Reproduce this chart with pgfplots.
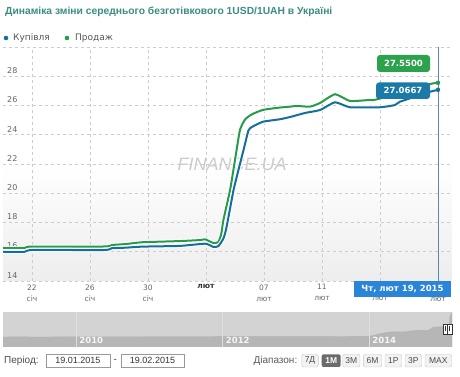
\documentclass[border=0pt]{standalone}
\usepackage{pgfplots}
\pgfplotsset{compat=1.18}
\usepackage{pgfplotstable}
\usepackage{fontspec}
\setmainfont{Liberation Sans}
\newfontfamily\dv{DejaVu Sans}
\definecolor{titlec}{RGB}{58,140,132}
\definecolor{greenS}{RGB}{40,155,75}
\definecolor{blueS}{RGB}{22,110,155}
\definecolor{gridc}{RGB}{205,205,205}
\definecolor{tickc}{RGB}{102,102,102}
\definecolor{legc}{RGB}{85,85,85}
\definecolor{gbox}{RGB}{44,162,76}
\definecolor{bbox}{RGB}{28,122,168}
\definecolor{ttip}{RGB}{42,132,216}
\definecolor{crossc}{RGB}{90,135,180}
\definecolor{navbg}{RGB}{211,211,211}
\definecolor{navser}{RGB}{182,182,182}
\definecolor{btnbg}{RGB}{242,242,242}
\definecolor{btnbd}{RGB}{200,200,200}

\pgfplotstableread{
x y
20.0 16.26
21.5 16.26
21.9 16.35
27.0 16.36
27.5 16.46
28.5 16.53
29.6 16.65
32.2 16.73
33.6 16.80
33.95 16.85
34.5 16.60
34.85 16.66
35.05 17.20
35.2 18.17
35.66 20.22
36.0 22.27
36.34 24.32
36.7 25.05
37.17 25.40
37.93 25.70
39.0 25.85
39.79 25.92
40.28 25.97
41.17 25.92
41.86 26.17
42.9 26.77
43.93 26.31
45.31 26.38
45.79 26.42
49.38 27.45
50.0 27.55
}\greendata

\pgfplotstableread{
x y
20.0 16.00
21.5 16.00
22.0 16.12
27.0 16.12
27.5 16.24
28.5 16.28
29.6 16.35
32.2 16.40
33.95 16.55
34.5 16.33
34.85 16.38
35.2 16.90
35.4 17.60
35.9 20.22
36.24 21.60
36.59 22.96
36.93 24.30
37.2 24.55
37.93 24.89
39.1 25.06
39.79 25.21
40.83 25.49
41.86 25.69
42.9 26.22
43.93 25.88
46.0 25.88
47.03 26.03
47.38 26.26
49.38 26.92
50.0 27.07
}\bluedata

\pgfplotstableread{
x y
2009.00 7.7
2009.15 7.9
2009.5 7.7
2010.0 7.95
2010.5 7.92
2011.0 7.96
2011.5 7.97
2012.0 8.0
2012.5 8.0
2013.0 8.05
2013.5 8.1
2014.0 8.3
2014.1 9.6
2014.18 10.8
2014.3 11.8
2014.5 11.9
2014.6 12.9
2014.7 13.2
2014.8 13.0
2014.88 15.6
2014.95 15.8
2015.03 16.0
2015.09 16.5
2015.10 24.0
2015.12 26.5
2015.13 27.3
}\navdata

\begin{document}
\begin{tikzpicture}[x=1pt,y=1pt]
\path (0,0) rectangle (460,377);
% title
\node[anchor=west, inner sep=0, text=titlec, font=\fontsize{10.3}{12}\selectfont\bfseries] at (5,365) {Динаміка зміни середнього безготівкового 1USD/1UAH в Україні};
% legend
\fill[blueS] (6,339) circle (2.3);
\node[anchor=west, inner sep=0, text=legc, font=\dv\fontsize{9}{11}\selectfont] at (13,339) {Купівля};
\fill[greenS] (67,339) circle (2.3);
\node[anchor=west, inner sep=0, text=legc, font=\dv\fontsize{9}{11}\selectfont] at (75,339) {Продаж};

\begin{axis}[at={(3pt,96pt)}, anchor=south west, scale only axis,
  width=449pt, height=234pt,
  xmin=20, xmax=50.966, ymin=14, ymax=30,
  axis line style={draw=none},
  tick style={draw=none}, major tick length=0pt,
  xtick={22,26,30,34,38,42,46,50},
  xticklabels={{22\\січ},{26\\січ},{30\\січ},{\bfseries\color{black!80}лют},{07\\лют},{11\\лют},{15\\лют},{19\\лют}},
  ytick={14,16,18,20,22,24,26,28,30},
  yticklabels={14,16,18,20,22,24,26,28,{}},
  grid=major, grid style={dashed, gridc, line width=0.6pt},
  yticklabel style={anchor=south west, inner sep=1pt, xshift=3pt, yshift=1.5pt, font=\dv\fontsize{8}{9}\selectfont, text=tickc},
  xticklabel style={align=center, font=\dv\fontsize{7.5}{11}\selectfont, text=tickc},
  /pgf/number format/assume math mode=true,
  axis background/.style={top color=white, bottom color=black!7, middle color=white},
]
\node[font=\fontsize{18}{18}\selectfont\itshape, text=black!20] at (axis cs:35.8,22.0) {FINANCE.UA};
\draw[black!28, line width=0.8pt] (rel axis cs:0,0) -- (rel axis cs:1,0);
\draw[crossc, line width=0.9pt] (axis cs:50,30) -- (axis cs:50,14);
\addplot[white, line width=4pt, smooth, tension=0.3] table {\greendata};
\addplot[greenS, line width=2pt, smooth, tension=0.3] table {\greendata};
\addplot[white, line width=4pt, smooth, tension=0.3] table {\bluedata};
\addplot[blueS, line width=2pt, smooth, tension=0.3] table {\bluedata};
\addplot[only marks, mark=*, mark size=2pt, greenS] coordinates {(50,27.55)};
\addplot[only marks, mark=*, mark size=2pt, blueS] coordinates {(50,27.07)};
\end{axis}

% value labels
\fill[gbox, rounded corners=3pt] (377,305) rectangle (430,322);
\node[text=white, font=\dv\fontsize{8.5}{10}\selectfont\bfseries] at (403.5,313.5) {27.5500};
\fill[bbox, rounded corners=3pt] (376,278) rectangle (430,294.5);
\node[text=white, font=\dv\fontsize{8.5}{10}\selectfont\bfseries] at (403,286.2) {27.0667};
% tooltip
\fill[ttip] (354,80) rectangle (451,96);
\node[text=white, font=\dv\fontsize{8.5}{10}\selectfont\bfseries] at (402.5,88) {Чт, лют 19, 2015};

% navigator
\begin{axis}[at={(3pt,30.3pt)}, anchor=south west, scale only axis,
  width=449pt, height=34.4pt,
  xmin=2009.0, xmax=2015.13, ymin=0, ymax=27.5,
  axis line style={draw=none}, tick style={draw=none}, major tick length=0pt,
  ytick=\empty,
  xtick={2010,2012,2014},
  xticklabels={2010,2012,2014},
  xmajorgrids, grid style={white!75!gray, line width=0.8pt},
  axis on top,
  xticklabel style={anchor=south west, inner sep=0pt, xshift=3pt, yshift=2.5pt, font=\dv\fontsize{8.5}{10}\selectfont\bfseries, text=white!93!gray},
  axis background/.style={fill=navbg},
]
\addplot[fill=navser, draw=black!30, line width=0.4pt] table {\navdata} \closedcycle;
\end{axis}
% handles
\draw[black!80, fill=white, line width=0.6pt] (443,43) rectangle (447.5,53);
\draw[black!80, fill=white, line width=0.6pt] (447.5,43) rectangle (452,53);
\draw[black!80, line width=0.5pt] (445.2,45.5) -- (445.2,50.5) (449.7,45.5) -- (449.7,50.5);

% controls
\node[anchor=west, inner sep=0, text=black!70, font=\fontsize{10}{12}\selectfont] at (4,16.3) {Період:};
\draw[black!40, fill=white] (45.7,10) rectangle (110,22.7);
\node[text=black!80, font=\fontsize{9}{11}\selectfont] at (77.8,16.3) {19.01.2015};
\node[text=black!70, font=\fontsize{10}{12}\selectfont] at (115.3,16.3) {-};
\draw[black!40, fill=white] (120.7,10) rectangle (184.3,22.7);
\node[text=black!80, font=\fontsize{9}{11}\selectfont] at (152.5,16.3) {19.02.2015};
\node[anchor=east, inner sep=0, text=black!65, font=\fontsize{10}{12}\selectfont] at (297.5,16.3) {Діапазон:};
\foreach \a/\b/\t in {301.7/318.3/7Д, 342.7/360/3М, 363.3/381.7/6М, 385/401.7/1Р, 405/421.7/3Р, 425/451.7/MAX}{
  \draw[btnbd, fill=btnbg, rounded corners=2pt] (\a,10) rectangle (\b,22.7);
  \node[text=black!70, font=\fontsize{8.5}{10}\selectfont] at ({(\a+\b)/2},16.3) {\t};
}
\fill[black!58, rounded corners=2pt] (321.7,10) rectangle (340.7,22.7);
\node[text=white, font=\fontsize{8.5}{10}\selectfont\bfseries] at (331.2,16.3) {1М};
\end{tikzpicture}
\end{document}
